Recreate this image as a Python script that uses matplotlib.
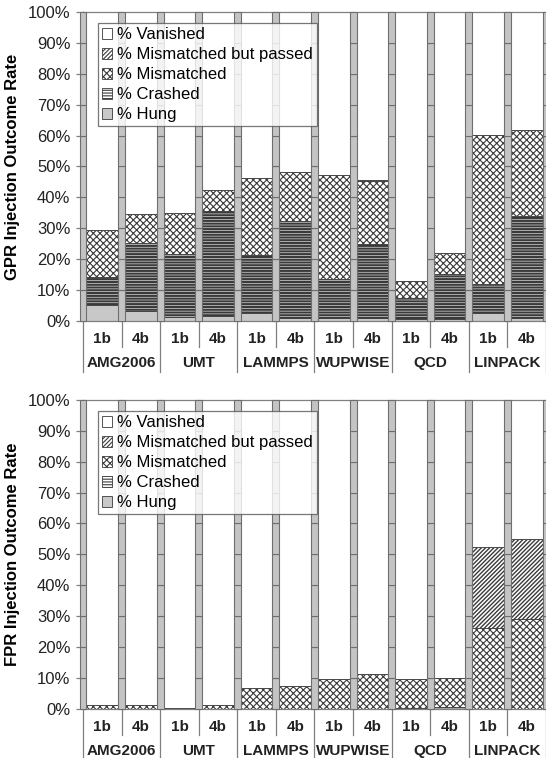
import matplotlib.pyplot as plt
import matplotlib as mpl
import numpy as np
from matplotlib.patches import Patch
from matplotlib.transforms import blended_transform_factory

plt.rcParams["font.family"] = ["Liberation Sans", "DejaVu Sans"]
plt.rcParams["hatch.linewidth"] = 0.8

benchmarks = ["AMG2006", "UMT", "LAMMPS", "WUPWISE", "QCD", "LINPACK"]
variants = ["1b", "4b"]

# GPR injection outcomes (% of runs), one value per (benchmark, variant) bar
gpr_hung = [5.2, 3.3, 1.4, 1.5, 2.7, 1.0, 1.0, 1.0, 0.5, 0.5, 2.5, 1.0]
gpr_crashed = [8.9, 22.1, 20.4, 34.0, 18.7, 31.4, 12.5, 24.0, 6.8, 14.6, 9.5, 33.0]
gpr_mismatched = [15.5, 9.1, 13.3, 7.0, 24.8, 15.8, 33.8, 20.4, 5.7, 6.9, 48.2, 27.8]
gpr_mismatched_passed = [0, 0, 0, 0, 0, 0, 0, 0.3, 0, 0, 0, 0]

# FPR injection outcomes (% of runs)
fpr_hung = [0, 0, 0, 0, 0, 0, 0, 0, 0, 0, 0, 0]
fpr_crashed = [0, 0, 0, 0, 0, 0, 0, 0, 0.3, 0.5, 0, 0]
fpr_mismatched = [1.2, 1.2, 0.3, 1.1, 6.7, 7.4, 9.6, 11.1, 9.3, 9.6, 26.2, 29.1]
fpr_mismatched_passed = [0, 0, 0, 0, 0, 0, 0, 0, 0, 0, 26.2, 25.9]

EDGE = "#3a3a3a"
SEP_FILL = "#c4c4c4"
SEP_EDGE = "#6e6e6e"
AXIS = "#808080"
FS = 12
CAT_FS = 11

styles = [
    # (name, facecolor, hatch, hatch linewidth)
    ("% Hung", "#c8c8c8", None, 0.8),
    ("% Crashed", "white", "------", 1.6),
    ("% Mismatched", "white", "xxxxx", 0.8),
    ("% Mismatched but passed", "white", "////////", 1.0),
    ("% Vanished", "white", None, 0.8),
]


def set_hatch_lw(artists, lw):
    for a in artists:
        if hasattr(a, "set_hatch_linewidth"):
            a.set_hatch_linewidth(lw)


def draw_panel(ax, series, ylabel):
    n = len(series[0])
    x = np.arange(n)
    bar_w = 0.82
    sep_w = 1 - bar_w

    totals = np.sum(series, axis=0)
    vanished = 100 - totals
    bottom = np.zeros(n)
    for (name, fc, hatch, hlw), vals in zip(styles, list(series) + [vanished]):
        vals = np.asarray(vals, dtype=float)
        with mpl.rc_context({"hatch.linewidth": hlw}):
            bars = ax.bar(x, vals, bar_w, bottom=bottom, color=fc, hatch=hatch,
                          edgecolor=EDGE, linewidth=0.6, zorder=2)
        set_hatch_lw(bars, hlw)
        bottom += vals

    # gray separator columns between bars, split into 10% blocks
    sep_x = np.arange(n + 1) - 0.5
    for lvl in range(0, 100, 10):
        ax.bar(sep_x, 10, sep_w, bottom=lvl, color=SEP_FILL,
               edgecolor=SEP_EDGE, linewidth=0.8, zorder=3, clip_on=False)

    ax.set_xlim(-0.5, n - 0.5)
    ax.set_ylim(0, 100)
    ax.set_yticks(range(0, 101, 10))
    ax.yaxis.set_major_formatter(mpl.ticker.FuncFormatter(lambda v, _: f"{v:.0f}%"))
    ax.tick_params(axis="y", direction="out", length=5, width=0.9, color=AXIS,
                   labelsize=FS, labelcolor="#222222", pad=4)
    ax.set_xticks([])
    for side in ["left", "bottom", "top"]:
        ax.spines[side].set_color(AXIS)
        ax.spines[side].set_linewidth(0.9)
    ax.spines["right"].set_visible(False)
    ax.set_ylabel(ylabel, fontsize=FS, fontweight="bold", labelpad=6)

    # two-level category axis
    tr = blended_transform_factory(ax.transData, ax.transAxes)
    for i in range(n):
        ax.text(i, -0.058, variants[i % 2], transform=tr, ha="center",
                va="center", fontsize=CAT_FS, fontweight="bold", color="#222222")
    for g, name in enumerate(benchmarks):
        ax.text(2 * g + 0.5, -0.136, name, transform=tr, ha="center",
                va="center", fontsize=CAT_FS, fontweight="bold", color="#222222")
    for k in range(n + 1):
        depth = -0.165 if k % 2 == 0 else -0.084
        ax.plot([k - 0.5, k - 0.5], [0, depth], transform=tr, color=AXIS,
                linewidth=0.9, clip_on=False)

    handles = []
    for name, fc, hatch, hlw in styles[::-1]:
        with mpl.rc_context({"hatch.linewidth": hlw}):
            p = Patch(facecolor=fc, hatch=hatch, edgecolor=EDGE, linewidth=0.6,
                      label=name)
        set_hatch_lw([p], hlw)
        handles.append(p)
    leg = ax.legend(handles=handles, loc="upper left",
                    bbox_to_anchor=(0.032, 0.964), borderaxespad=0,
                    fontsize=FS, frameon=True, fancybox=False,
                    handlelength=0.6, handleheight=0.6, handletextpad=0.3,
                    labelspacing=0.3, borderpad=0.25)
    leg.get_frame().set_edgecolor("#555555")
    leg.get_frame().set_linewidth(0.9)
    leg.set_zorder(5)


fig = plt.figure(figsize=(5.46, 7.58), dpi=100)
ax_top = fig.add_axes([0.152, 0.5765, 0.848, 0.4077])
ax_bot = fig.add_axes([0.152, 0.065, 0.848, 0.4073])

draw_panel(ax_top, [gpr_hung, gpr_crashed, gpr_mismatched, gpr_mismatched_passed],
           "GPR Injection Outcome Rate")
draw_panel(ax_bot, [fpr_hung, fpr_crashed, fpr_mismatched, fpr_mismatched_passed],
           "FPR Injection Outcome Rate")

fig.savefig("out.png", dpi=100)
